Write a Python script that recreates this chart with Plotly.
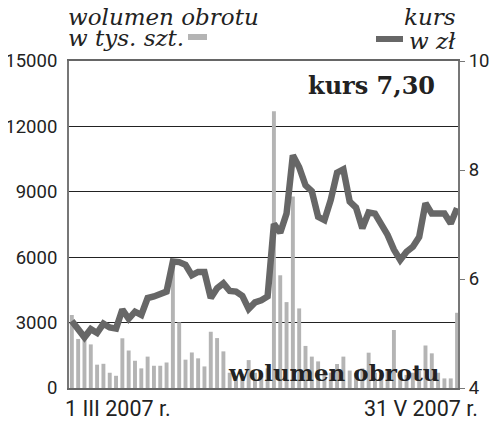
import plotly.graph_objects as go

# trading sessions 1 III 2007 - 31 V 2007
sessions = list(range(62))
volume = [3350, 2250, 2250, 2000, 1070, 1110, 700, 560, 2280, 1720,
          1250, 900, 1440, 1020, 1020, 1170, 5760, 3010, 1300, 1630,
          1360, 990, 2580, 2290, 1680, 700, 500, 650, 1280, 700,
          550, 900, 12700, 5170, 3940, 8780, 3650, 1930, 1440, 1220,
          800, 700, 1100, 1440, 800, 700, 900, 1620, 700, 600,
          800, 2660, 700, 600, 700, 800, 1950, 1590, 700, 440,
          440, 3450]
price = [5.23, 5.06, 4.93, 5.08, 5.01, 5.18, 5.11, 5.09, 5.44, 5.27,
         5.40, 5.34, 5.65, 5.68, 5.72, 5.77, 6.32, 6.31, 6.26, 6.07,
         6.13, 6.13, 5.65, 5.83, 5.92, 5.78, 5.77, 5.69, 5.45, 5.57,
         5.61, 5.68, 7.01, 6.85, 7.20, 8.27, 8.05, 7.72, 7.61, 7.14,
         7.08, 7.45, 7.95, 8.01, 7.42, 7.31, 6.93, 7.22, 7.20, 7.02,
         6.81, 6.54, 6.35, 6.50, 6.59, 6.77, 7.39, 7.20, 7.20, 7.20,
         7.02, 7.30]
left_ticks = [0, 3000, 6000, 9000, 12000, 15000]
right_ticks = [4, 6, 8, 10]
date_labels = ["1 III 2007 r.", "31 V 2007 r."]

BAR = "#b4b4b4"
LINE = "#676767"
TICKFONT = dict(family="Roboto", size=18.5, color="#222")

fig = go.Figure()
fig.add_trace(go.Bar(x=sessions, y=volume, marker=dict(color=BAR, line=dict(width=0)),
                     width=0.62, yaxis="y"))
fig.add_trace(go.Scatter(x=sessions, y=price, mode="lines", yaxis="y2",
                         line=dict(color=LINE, width=6.5)))

# page body has an 8px margin; figure sized to fit the 500x428 window
fig.update_layout(
    width=492, height=420,
    margin=dict(l=61, r=42, t=53, b=40, autoexpand=False),
    paper_bgcolor="white", plot_bgcolor="white",
    showlegend=False,
    xaxis=dict(range=[-0.45, 61.15], showticklabels=False, showgrid=False,
               zeroline=False, showline=True, linecolor="#666", linewidth=2,
               mirror=True, ticks="", automargin=False),
    yaxis=dict(range=[0, 15000], tickvals=left_ticks,
               ticktext=[str(v) for v in left_ticks],
               showgrid=True, gridcolor="#222", gridwidth=1, zeroline=False,
               showline=True, linecolor="#777", linewidth=2, ticks="",
               tickfont=TICKFONT, ticklabelstandoff=6, automargin=False),
    yaxis2=dict(range=[4, 10], tickvals=right_ticks, overlaying="y", side="right",
                showgrid=False, zeroline=False, showline=True, linecolor="#777",
                linewidth=2, ticks="outside", ticklen=5, tickcolor="#777",
                tickfont=TICKFONT, automargin=False),
)

def py(y):
    return (388 - y) / 327

def px(x):
    return (x - 69) / 389

ann = []
ital = dict(family="DejaVu Serif", size=23, color="#222")
ann.append(dict(text="<i>wolumen obrotu</i>", x=px(66), y=py(17), xanchor="left", yanchor="middle", font=ital))
ann.append(dict(text="<i>w tys. szt.</i>", x=px(66), y=py(38), xanchor="left", yanchor="middle", font=ital))
ann.append(dict(text="<i>kurs</i>", x=px(458), y=py(17), xanchor="right", yanchor="middle", font=ital))
ann.append(dict(text="<i>w zł</i>", x=px(458), y=py(41), xanchor="right", yanchor="middle", font=ital))
ann.append(dict(text="<b>kurs 7,30</b>", x=px(437), y=py(85), xanchor="right", yanchor="middle",
                font=dict(family="DejaVu Serif", size=24, color="#222")))
ann.append(dict(text="<b>wolumen obrotu</b>", x=px(334), y=py(372), xanchor="center", yanchor="middle",
                font=dict(family="DejaVu Serif", size=23, color="#222")))
ann.append(dict(text=date_labels[0], x=px(63), y=py(408), xanchor="left", yanchor="middle",
                font=dict(family="Roboto", size=21.5, color="#222")))
ann.append(dict(text=date_labels[1], x=px(480), y=py(408), xanchor="right", yanchor="middle",
                font=dict(family="Roboto", size=21.5, color="#222")))
for a in ann:
    a.update(xref="paper", yref="paper", showarrow=False)
fig.update_layout(annotations=ann)

fig.update_layout(shapes=[
    dict(type="rect", xref="paper", yref="paper", x0=px(188), x1=px(207), y0=py(40), y1=py(34),
         fillcolor=BAR, line=dict(width=0)),
    dict(type="rect", xref="paper", yref="paper", x0=px(376), x1=px(403), y0=py(42), y1=py(36),
         fillcolor=LINE, line=dict(width=0)),
])

fig.write_html("out.html")
